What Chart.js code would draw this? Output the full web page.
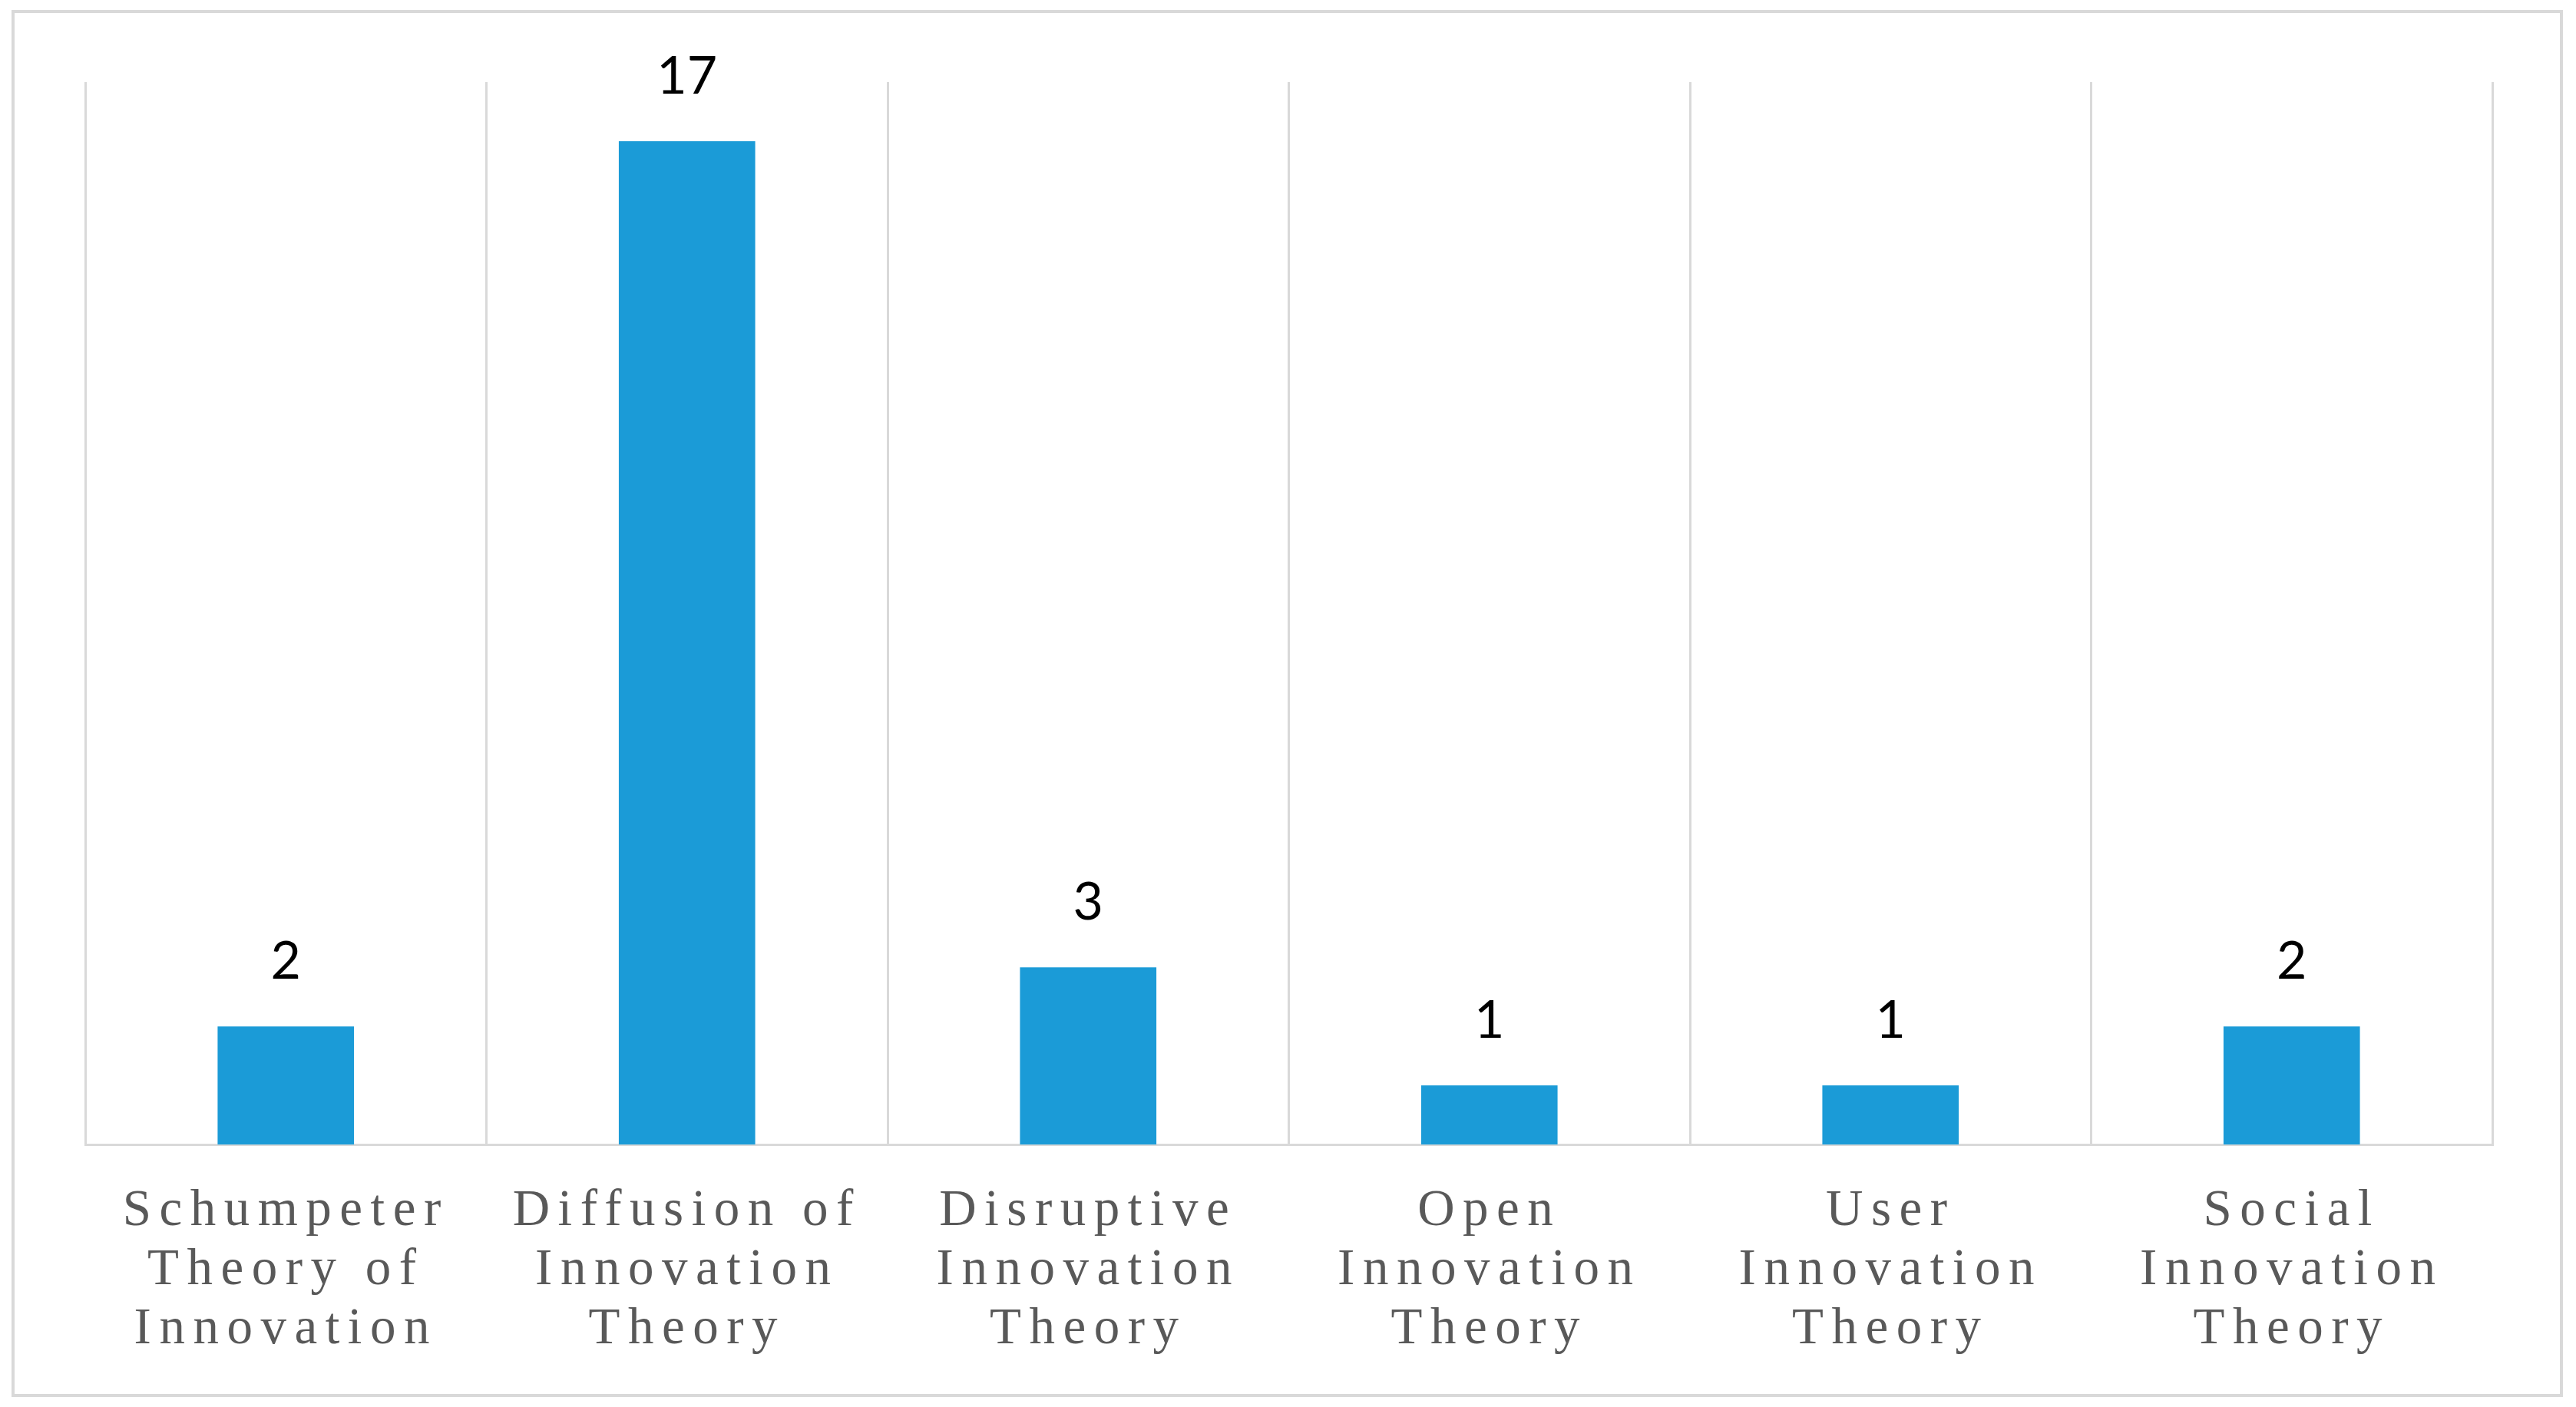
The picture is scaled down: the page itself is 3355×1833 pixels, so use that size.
<!DOCTYPE html>
<html>
<head>
<meta charset="utf-8">
<script src="https://cdn.jsdelivr.net/npm/chart.js@4.4.1/dist/chart.umd.min.js"></script>
<style>
  html, body { margin: 0; padding: 0; background: #ffffff; }
  canvas { display: block; }
</style>
</head>
<body>
<canvas id="c" width="3355" height="1833"></canvas>
<script>
const categories = [
  ["Schumpeter", "Theory of", "Innovation"],
  ["Diffusion of", "Innovation", "Theory"],
  ["Disruptive", "Innovation", "Theory"],
  ["Open", "Innovation", "Theory"],
  ["User", "Innovation", "Theory"],
  ["Social", "Innovation", "Theory"]
];
const values = [2, 17, 3, 1, 1, 2];
const yMin = 0;
const yMax = 18;

const framePlugin = {
  id: 'frame',
  beforeDraw(chart) {
    const ctx = chart.ctx;
    ctx.save();
    ctx.fillStyle = '#ffffff';
    ctx.fillRect(0, 0, chart.width, chart.height);
    ctx.strokeStyle = '#d9d9d9';
    ctx.lineWidth = 4;
    ctx.strokeRect(17, 15, chart.width - 36, chart.height - 30);
    ctx.restore();
    ctx.letterSpacing = '10.5px';
  },
  afterDraw(chart) {
    chart.ctx.letterSpacing = '0px';
  }
};

const labelPlugin = {
  id: 'valueLabels',
  afterDatasetsDraw(chart) {
    const ctx = chart.ctx;
    const meta = chart.getDatasetMeta(0);
    ctx.save();
    ctx.letterSpacing = '0px';
    ctx.font = '68px Lato';
    ctx.fillStyle = '#000000';
    ctx.textAlign = 'center';
    ctx.textBaseline = 'alphabetic';
    meta.data.forEach((bar, i) => {
      ctx.fillText(String(values[i]), bar.x, bar.y - 62);
    });
    ctx.restore();
  }
};

new Chart(document.getElementById('c'), {
  type: 'bar',
  data: {
    labels: categories,
    datasets: [{
      data: values,
      backgroundColor: '#1B9BD7',
      borderWidth: 0,
      barPercentage: 0.34,
      categoryPercentage: 1.0
    }]
  },
  options: {
    responsive: false,
    devicePixelRatio: 1,
    animation: false,
    layout: { padding: { left: 111, right: 109, top: 107, bottom: 0 } },
    plugins: {
      legend: { display: false },
      tooltip: { enabled: false },
      title: { display: false }
    },
    scales: {
      x: {
        offset: true,
        grid: {
          display: true,
          offset: true,
          color: '#d9d9d9',
          lineWidth: 3,
          drawTicks: false
        },
        border: { display: true, color: '#d9d9d9', width: 3 },
        ticks: {
          autoSkip: false,
          maxRotation: 0,
          minRotation: 0,
          padding: 49,
          color: '#595959',
          font: { family: '"Liberation Serif", "Times New Roman", serif', size: 67, lineHeight: 77 / 67 }
        },
        afterFit(scale) { scale.height = 342; }
      },
      y: {
        display: false,
        min: yMin,
        max: yMax,
        grid: { display: false }
      }
    }
  },
  plugins: [framePlugin, labelPlugin]
});
</script>
</body>
</html>
